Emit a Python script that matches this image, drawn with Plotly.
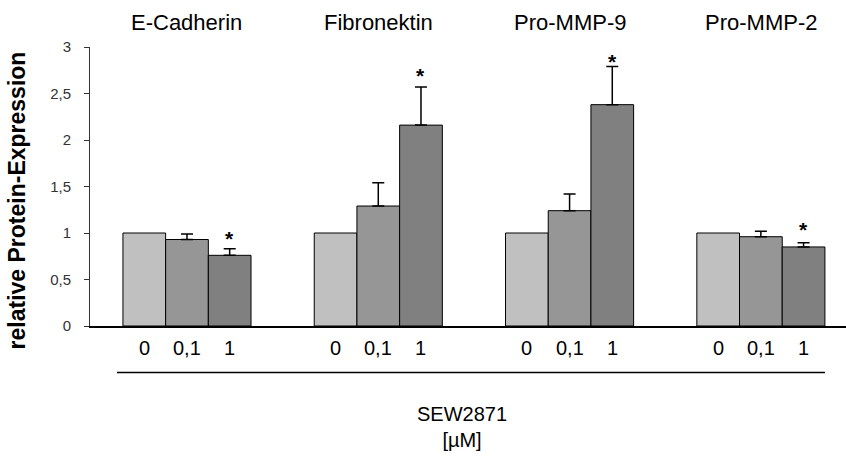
import plotly.graph_objects as go

# ---- data ----
proteins = ["E-Cadherin", "Fibronektin", "Pro-MMP-9", "Pro-MMP-2"]
doses = ["0", "0,1", "1"]
values_0 = [1.00, 1.00, 1.00, 1.00]
values_01 = [0.93, 1.29, 1.24, 0.96]
values_1 = [0.76, 2.16, 2.38, 0.85]
err_0 = [0.0, 0.0, 0.0, 0.0]
err_01 = [0.06, 0.25, 0.18, 0.06]
err_1 = [0.07, 0.41, 0.41, 0.045]
star_y = [1.00, 2.75, 2.90, 1.09]
ytick_vals = [0, 0.5, 1, 1.5, 2, 2.5, 3]
ytick_text = ["0", "0,5", "1", "1,5", "2", "2,5", "3"]
x_title = "SEW2871<br>[µM]"
y_title = "relative Protein-Expression"

FONT = "Liberation Sans, Arial, sans-serif"
colors = ["#c0c0c0", "#969696", "#808080"]
series = [values_0, values_01, values_1]
errors = [err_0, err_01, err_1]

xpos = list(range(len(proteins)))
fig = go.Figure()
for i, (vals, errs) in enumerate(zip(series, errors)):
    fig.add_trace(go.Bar(
        x=xpos, y=vals, name=doses[i],
        marker=dict(color=colors[i], line=dict(color="black", width=1)),
        error_y=dict(type="data", array=errs, arrayminus=[0] * len(errs),
                     symmetric=False, visible=any(e > 0 for e in errs),
                     color="black", thickness=1.5, width=6),
        showlegend=False, hoverinfo="skip",
    ))

bar_w = (1 - 0.3304) / 3
annotations = []
# concentration labels under each bar
for gi in xpos:
    for di, d in enumerate(doses):
        annotations.append(dict(
            x=gi + (di - 1) * bar_w, xref="x", y=0, yref="paper",
            yanchor="middle", yshift=-21.5, text=d, showarrow=False,
            font=dict(family=FONT, size=20, color="black")))
# protein titles on top
for gi, p in zip(xpos, proteins):
    annotations.append(dict(
        x=gi, xref="x", y=1, yref="paper", yanchor="middle", yshift=24.5,
        text=p, showarrow=False, font=dict(family=FONT, size=22, color="black")))
# significance stars
for gi, sy in zip(xpos, star_y):
    annotations.append(dict(
        x=gi + bar_w, xref="x", y=sy, yref="y", yanchor="middle", yshift=-5,
        text="<b>*</b>", showarrow=False,
        font=dict(family=FONT, size=21, color="black")))
# x title
annotations.append(dict(
    x=(462 - 90) / 756, xref="paper", y=0, yref="paper", yanchor="middle",
    yshift=-100.5, text=x_title, showarrow=False,
    font=dict(family=FONT, size=20, color="black")))
# y title
annotations.append(dict(
    x=(17 - 90) / 756, xref="paper", xanchor="center", y=0.45, yref="paper",
    yanchor="middle", text="<b>" + y_title + "</b>", textangle=-90,
    showarrow=False, font=dict(family=FONT, size=23, color="black")))

fig.update_layout(
    width=846, height=456,
    margin=dict(l=90, r=0, t=47, b=130, pad=0),
    paper_bgcolor="white", plot_bgcolor="white",
    barmode="group", bargap=0.3304, bargroupgap=0,
    font=dict(family=FONT, color="black"),
    annotations=annotations,
    shapes=[dict(type="line", xref="paper", yref="paper",
                 x0=(117 - 90) / 756, x1=(825 - 90) / 756,
                 y0=(326.5 - 373) / 279, y1=(326.5 - 373) / 279,
                 line=dict(color="black", width=1.5))],
    xaxis=dict(range=[-0.507, 3.445], showticklabels=False, showgrid=False,
               zeroline=False, showline=True, linecolor="black", linewidth=1.5,
               ticks=""),
    yaxis=dict(range=[0, 3], tickvals=ytick_vals, ticktext=ytick_text,
               showgrid=False, zeroline=False, showline=True,
               linecolor="#333333", linewidth=1, ticks="outside", ticklen=5,
               tickcolor="#333333", ticklabelstandoff=10,
               tickfont=dict(family=FONT, size=15, color="#333333")),
)

fig.write_html("out.html",
               config={"displayModeBar": False, "staticPlot": True},
               post_script="document.body.style.margin='0';"
                           "document.body.style.overflow='hidden';")
